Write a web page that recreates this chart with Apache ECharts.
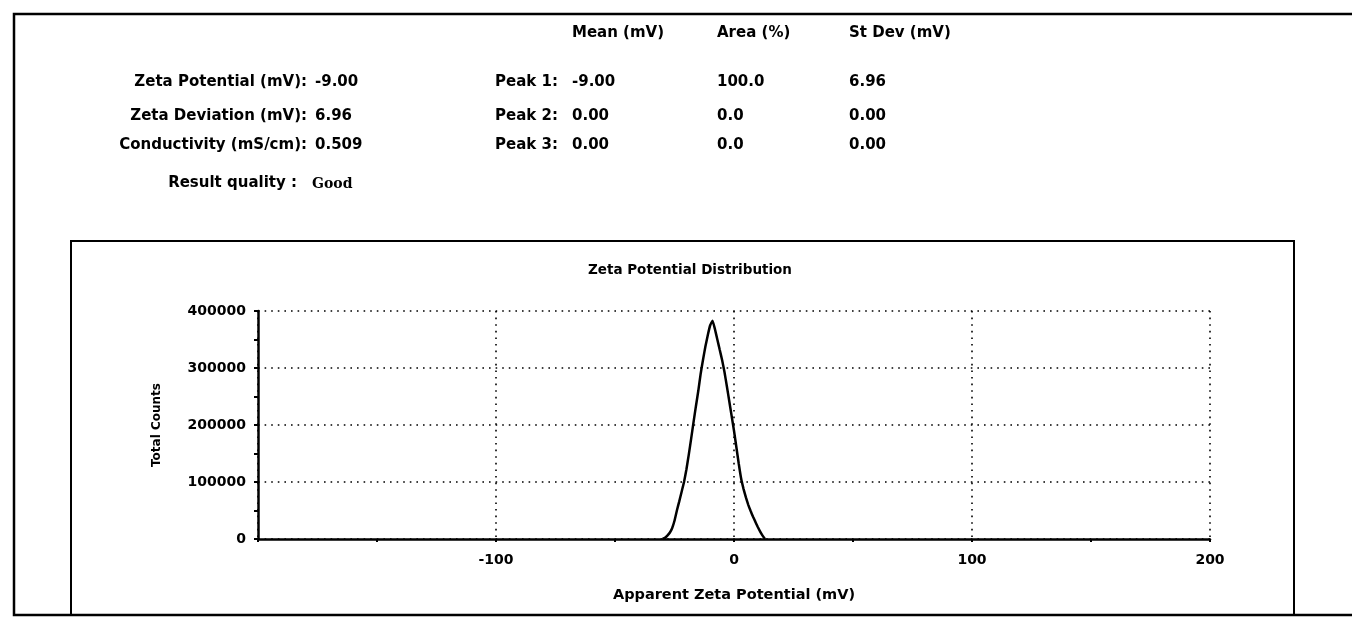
<!DOCTYPE html>
<html>
<head>
<meta charset="utf-8">
<script src="https://cdn.jsdelivr.net/npm/echarts@6/dist/echarts.min.js"></script>
<style>
  html, body { margin: 0; padding: 0; background: #fff; }
  #chart { width: 1352px; height: 617px; }
</style>
</head>
<body>
<div id="chart"></div>
<script>
// ---- data ----
const summaryLabels = ['Zeta Potential (mV):', 'Zeta Deviation (mV):', 'Conductivity (mS/cm):'];
const summaryValues = ['-9.00', '6.96', '0.509'];
const qualityLabel = 'Result quality :';
const qualityValue = 'Good';

const peakColumns = ['Mean (mV)', 'Area (%)', 'St Dev (mV)'];
const peakNames = ['Peak 1:', 'Peak 2:', 'Peak 3:'];
const peakMeans = ['-9.00', '0.00', '0.00'];
const peakAreas = ['100.0', '0.0', '0.0'];
const peakStdDevs = ['6.96', '0.00', '0.00'];

const chartTitle = 'Zeta Potential Distribution';
const xAxisTitle = 'Apparent Zeta Potential (mV)';
const yAxisTitle = 'Total Counts';

const zetaMv = [-30, -29, -28, -27, -26, -25, -24, -23, -22, -21, -20, -19, -18, -17, -16, -15,
  -14, -13, -12, -11, -10, -9, -8, -7, -6, -5, -4, -3, -2, -1, 0, 1, 2, 3, 4, 5, 6, 7, 8, 9, 10, 11, 12, 13];
const totalCounts = [0, 2000, 6000, 11000, 19000, 32000, 50000, 66000, 83000, 100000, 122000, 148000,
  176000, 205000, 233000, 260000, 290000, 315000, 338000, 358000, 375000, 383000, 368000, 350000,
  332000, 314000, 293000, 268000, 242000, 216000, 190000, 161000, 132000, 106000, 88000, 73000,
  60000, 49000, 39000, 30000, 21000, 13000, 6000, 0];

// ---- chart ----
const FONT = '"DejaVu Sans", sans-serif';
const chart = echarts.init(document.getElementById('chart'), null, { renderer: 'canvas' });

const headerStyle = { font: 'bold 15px ' + FONT, fill: '#000', textVerticalAlign: 'middle' };
const graphics = [];

// outer page border and chart frame
graphics.push({ type: 'rect', shape: { x: 14, y: 14, width: 1400, height: 601 },
  style: { fill: 'none', stroke: '#000', lineWidth: 2.5 }, silent: true });
graphics.push({ type: 'rect', shape: { x: 71, y: 241, width: 1223, height: 374 },
  style: { fill: 'none', stroke: '#000', lineWidth: 2 }, silent: true });

const rowY = [82, 116, 145];
summaryLabels.forEach((lab, i) => {
  graphics.push({ type: 'text', x: 307, y: rowY[i],
    style: Object.assign({}, headerStyle, { text: lab, textAlign: 'right' }) });
  graphics.push({ type: 'text', x: 315, y: rowY[i],
    style: Object.assign({}, headerStyle, { text: summaryValues[i], textAlign: 'left' }) });
});
graphics.push({ type: 'text', x: 297, y: 183,
  style: Object.assign({}, headerStyle, { text: qualityLabel, textAlign: 'right' }) });
graphics.push({ type: 'text', x: 312, y: 184,
  style: Object.assign({}, headerStyle, { text: qualityValue, textAlign: 'left',
    font: 'bold 14px "DejaVu Serif", serif' }) });

const colX = [572, 717, 849];
peakColumns.forEach((c, i) => {
  graphics.push({ type: 'text', x: colX[i], y: 33,
    style: Object.assign({}, headerStyle, { text: c, textAlign: 'left' }) });
});
const peakCols = [peakMeans, peakAreas, peakStdDevs];
peakNames.forEach((p, r) => {
  graphics.push({ type: 'text', x: 495, y: rowY[r],
    style: Object.assign({}, headerStyle, { text: p, textAlign: 'left' }) });
  peakCols.forEach((col, c) => {
    graphics.push({ type: 'text', x: colX[c], y: rowY[r],
      style: Object.assign({}, headerStyle, { text: col[r], textAlign: 'left' }) });
  });
});

const dotted = { color: '#000', width: 1.6, type: [1.6, 5] };

const option = {
  backgroundColor: '#fff',
  animation: false,
  title: {
    text: chartTitle,
    left: 685, top: 258, textAlign: 'center',
    textStyle: { fontFamily: FONT, fontWeight: 'bold', fontSize: 13.5, color: '#000' }
  },
  grid: { left: 258, right: 142, top: 311, bottom: 78, containLabel: false },
  xAxis: {
    type: 'value', min: -200, max: 200, interval: 100,
    name: xAxisTitle, nameLocation: 'middle', nameGap: 49,
    nameTextStyle: { fontFamily: FONT, fontWeight: 'bold', fontSize: 14.5, color: '#000' },
    axisLine: { show: true, onZero: false, lineStyle: { color: '#000', width: 2.5 } },
    axisTick: { show: true, length: 3, lineStyle: { color: '#000', width: 2 } },
    minorTick: { show: true, splitNumber: 2, length: 3, lineStyle: { color: '#000', width: 2 } },
    axisLabel: { fontFamily: FONT, fontWeight: 'bold', fontSize: 14, color: '#000', margin: 14,
      showMinLabel: false },
    splitLine: { show: true, lineStyle: dotted }
  },
  yAxis: {
    type: 'value', min: 0, max: 400000, interval: 100000,
    name: yAxisTitle, nameLocation: 'middle', nameGap: 95,
    nameTextStyle: { fontFamily: FONT, fontWeight: 'bold', fontSize: 12, color: '#000' },
    axisLine: { show: true, onZero: false, lineStyle: { color: '#000', width: 2.5 } },
    axisTick: { show: true, length: 4, lineStyle: { color: '#000', width: 2 } },
    minorTick: { show: true, splitNumber: 2, length: 4, lineStyle: { color: '#000', width: 2 } },
    axisLabel: { fontFamily: FONT, fontWeight: 'bold', fontSize: 14, color: '#000', margin: 12,
      formatter: v => String(v) },
    splitLine: { show: true, lineStyle: dotted }
  },
  series: [{
    type: 'line',
    data: zetaMv.map((x, i) => [x, totalCounts[i]]),
    showSymbol: false,
    smooth: 0.12,
    lineStyle: { color: '#000', width: 2.5 },
    z: 5
  }],
  graphic: graphics
};
chart.setOption(option);
</script>
</body>
</html>
